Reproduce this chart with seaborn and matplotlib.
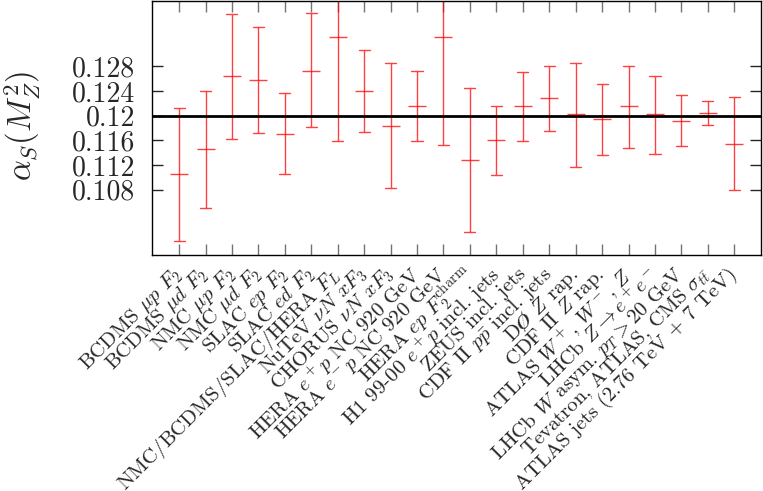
import pandas as pd
import numpy as np
import matplotlib.pyplot as plt
import seaborn as sns

# alpha_s(M_Z^2) fits per dataset
datasets = [
    r'BCDMS $\mu p$ $F_2$', r'BCDMS $\mu d$ $F_2$', r'NMC $\mu p$ $F_2$', r'NMC $\mu d$ $F_2$',
    r'SLAC $ep$ $F_2$', r'SLAC $ed$ $F_2$', r'NMC/BCDMS/SLAC/HERA $F_L$',
    r'NuTeV $\nu N$ $xF_3$', r'CHORUS $\nu N$ $xF_3$',
    r'HERA $e^+p$ NC 920 GeV', r'HERA $e^-p$ NC 920 GeV', r'HERA $ep$ $F_2^{\rm charm}$',
    r'H1 99-00 $e^+p$ incl. jets', r'ZEUS incl. jets', r'CDF II $p\bar{p}$ incl. jets',
    r'D$\O$ $Z$ rap.', r'CDF II $Z$ rap.', r'ATLAS $W^+$, $W^-$, $Z$',
    r'LHCb $Z\rightarrow e^+e^-$', r'LHCb $W$ asym. $p_T > 20$ GeV',
    r'Tevatron, ATLAS, CMS $\sigma_{t\bar{t}}$', 'ATLAS jets (2.76 TeV + 7 TeV)',
]
central = [0.1105, 0.1145, 0.1264, 0.1257, 0.1170, 0.1273, 0.1327, 0.1240, 0.1183, 0.1216, 0.1327,
           0.1128, 0.1160, 0.1215, 0.1228, 0.1202, 0.1194, 0.1215, 0.1202, 0.1192, 0.1204, 0.1154]
upper = [0.1212, 0.1240, 0.1365, 0.1343, 0.1236, 0.1366, 0.1495, 0.1307, 0.1285, 0.1272, 0.1501,
         0.1245, 0.1216, 0.1271, 0.1281, 0.1286, 0.1251, 0.1281, 0.1264, 0.1233, 0.1224, 0.1230]
lower = [0.0996, 0.1050, 0.1162, 0.1171, 0.1105, 0.1181, 0.1159, 0.1173, 0.1082, 0.1159, 0.1153,
         0.1011, 0.1104, 0.1159, 0.1175, 0.1117, 0.1136, 0.1148, 0.1138, 0.1150, 0.1185, 0.1079]
ytick_vals = [0.108, 0.112, 0.116, 0.12, 0.124, 0.128]
ytick_labels = ['0.108', '0.112', '0.116', '0.12', '0.124', '0.128']
reference = 0.12

# long format: median of (lower, central, upper) = central, full range = error bar
fits = pd.DataFrame({'dataset': datasets * 3, 'alpha_s': lower + central + upper})

sns.set_style('ticks')
plt.rcParams['font.family'] = ['cmr10', 'DejaVu Serif']
plt.rcParams['mathtext.fontset'] = 'cm'
plt.rcParams['axes.unicode_minus'] = False

fig = plt.figure(figsize=(7.63, 4.91), dpi=100)
ax = fig.add_axes([0.199, 0.481, 0.798, 0.517])

sns.pointplot(data=fits, x='dataset', y='alpha_s', order=datasets, estimator='median',
              errorbar=('pi', 100), color='red', linestyle='none', marker='_', markersize=13,
              markeredgewidth=1, alpha=0.75, capsize=0.42,
              err_kws={'linewidth': 1, 'alpha': 0.75}, ax=ax)
ax.axhline(reference, color='black', lw=2, zorder=5)

ax.set_xlim(-1.03, 22)
ax.set_ylim(0.0974, 0.1386)
ax.set_yticks(ytick_vals, ytick_labels, fontsize=20)
ax.set_xticks(range(len(datasets)))
ax.set_xticklabels(datasets, rotation=45, ha='right', va='center', rotation_mode='anchor',
                   fontsize=15)
ax.tick_params(direction='in', top=True, right=True, length=8, width=1)
ax.tick_params(axis='x', color='0.45', pad=12)
ax.tick_params(axis='y', pad=12)
for s in ax.spines.values():
    s.set_linewidth(1)
    s.set_color('black')

ax.set_xlabel('')
ax.set_ylabel(r'$\alpha_S(M_Z^2)$', fontsize=23.5)
ax.yaxis.set_label_coords(-0.181, 0.51)

plt.savefig('out.png', dpi=100)
